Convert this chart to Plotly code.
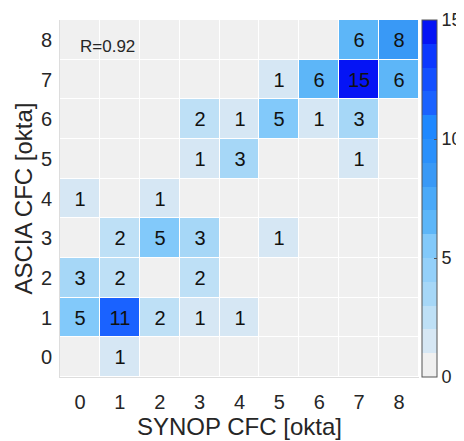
import plotly.graph_objects as go

synop_cfc = [0, 1, 2, 3, 4, 5, 6, 7, 8]
ascia_cfc = [0, 1, 2, 3, 4, 5, 6, 7, 8]
tick_labels = ["0", "1", "2", "3", "4", "5", "6", "7", "8"]

# counts[row = ASCIA][col = SYNOP]
row_0 = [0, 1, 0, 0, 0, 0, 0, 0, 0]
row_1 = [5, 11, 2, 1, 1, 0, 0, 0, 0]
row_2 = [3, 2, 0, 2, 0, 0, 0, 0, 0]
row_3 = [0, 2, 5, 3, 0, 1, 0, 0, 0]
row_4 = [1, 0, 1, 0, 0, 0, 0, 0, 0]
row_5 = [0, 0, 0, 1, 3, 0, 0, 1, 0]
row_6 = [0, 0, 0, 2, 1, 5, 1, 3, 0]
row_7 = [0, 0, 0, 0, 0, 1, 6, 15, 6]
row_8 = [0, 0, 0, 0, 0, 0, 0, 6, 8]
counts = [row_0, row_1, row_2, row_3, row_4, row_5, row_6, row_7, row_8]
r_value = "R=0.92"

band_colors = [
    "#f0f0f0", "#d6e7f4", "#bee0f6", "#a6d7f7", "#94d0f9",
    "#82c9fa", "#5db6f8", "#4aa9f8", "#3999f6", "#2a90fb",
    "#1e88ff", "#1a62ff", "#1450ff", "#0c38ff", "#0514f5",
]
n = len(band_colors)
colorscale = []
for k, c in enumerate(band_colors):
    colorscale.append([k / n, c])
    colorscale.append([(k + 1) / n, c])

z_disp = [[v + 0.5 for v in row] for row in counts]
text = [[str(v) if v > 0 else "" for v in row] for row in counts]

font_family = "Liberation Sans, Arial, sans-serif"
txt_color = "#262626"

fig = go.Figure(go.Heatmap(
    x=synop_cfc, y=ascia_cfc, z=z_disp,
    customdata=counts,
    text=text, texttemplate="%{text}",
    textfont=dict(family=font_family, size=20, color="#111111"),
    colorscale=colorscale, zmin=0, zmax=15,
    xgap=1, ygap=1,
    hovertemplate="SYNOP %{x}, ASCIA %{y}: %{customdata}<extra></extra>",
    colorbar=dict(
        x=0.905, xanchor="left", xref="paper",
        y=0.5, yanchor="middle", len=1.0, lenmode="fraction",
        ypad=0, xpad=0,
        thickness=15,
        outlinecolor="#555555", outlinewidth=1,
        tickvals=[0, 5, 10, 15], ticktext=["0", "5", "10", "15"],
        ticks="inside", ticklen=3, tickcolor="#555555",
        tickfont=dict(family=font_family, size=18, color=txt_color),
    ),
))

fig.add_annotation(
    x=0.05, y=0.925, xref="x domain", yref="y domain",
    text=r_value, showarrow=False, xanchor="left", yanchor="middle",
    font=dict(family=font_family, size=17, color=txt_color),
)

# page body adds an 8px offset, so the figure is sized to the visible area
fig.update_layout(
    width=456, height=433,
    margin=dict(l=52, r=4, t=12, b=64, autoexpand=False),
    paper_bgcolor="white", plot_bgcolor="white",
    font=dict(family=font_family, color=txt_color),
)
fig.update_xaxes(
    domain=[0, 0.8975],
    tickvals=synop_cfc, ticktext=tick_labels,
    range=[-0.5, 8.5], showgrid=False, zeroline=False,
    showline=True, linecolor="#dddddd", linewidth=1,
    ticks="", tickfont=dict(size=20, color=txt_color),
    ticklabelstandoff=7,
    title=dict(text="SYNOP CFC [okta]", font=dict(size=24, color=txt_color), standoff=4),
)
fig.update_yaxes(
    tickvals=ascia_cfc, ticktext=tick_labels,
    range=[-0.5, 8.5], showgrid=False, zeroline=False,
    showline=True, linecolor="#dddddd", linewidth=1,
    ticks="", tickfont=dict(size=20, color=txt_color),
    ticklabelstandoff=3,
    title=dict(text="ASCIA CFC [okta]", font=dict(size=24, color=txt_color), standoff=1),
)

fig.write_html("out.html")
